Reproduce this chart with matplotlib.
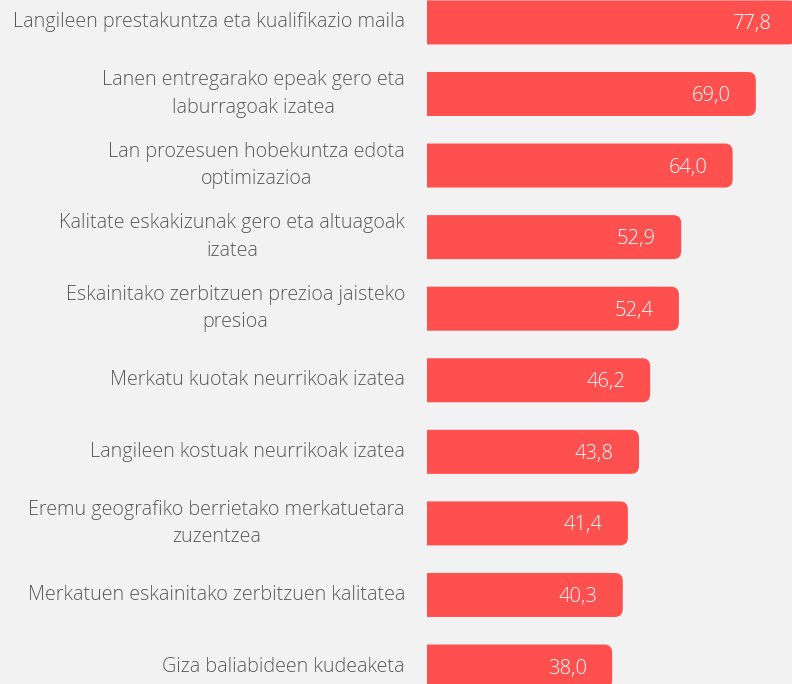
import matplotlib
matplotlib.use("Agg")
import matplotlib.pyplot as plt
from matplotlib.patches import FancyBboxPatch
from matplotlib.transforms import offset_copy

categories = [
    "Langileen prestakuntza eta kualifikazio maila",
    "Lanen entregarako epeak gero eta\nlaburragoak izatea",
    "Lan prozesuen hobekuntza edota\noptimizazioa",
    "Kalitate eskakizunak gero eta altuagoak\nizatea",
    "Eskainitako zerbitzuen prezioa jaisteko\npresioa",
    "Merkatu kuotak neurrikoak izatea",
    "Langileen kostuak neurrikoak izatea",
    "Eremu geografiko berrietako merkatuetara\nzuzentzea",
    "Merkatuen eskainitako zerbitzuen kalitatea",
    "Giza baliabideen kudeaketa",
]
values = [77.8, 69.0, 64.0, 52.9, 52.4, 46.2, 43.8, 41.4, 40.3, 38.0]
value_labels = ["77,8", "69,0", "64,0", "52,9", "52,4", "46,2", "43,8", "41,4", "40,3", "38,0"]

BG = "#F2F2F2"
BAR = "#FF5050"
TXT = "#595959"
FONT = ["Open Sans", "DejaVu Sans"]

W, H = 792, 684
fig = plt.figure(figsize=(W / 100, H / 100), dpi=100, facecolor=BG)
ax = fig.add_axes([427 / W, 0, 1 - 427 / W, 1])
ax.set_facecolor(BG)

xmin, xmax = -1.94, 76.8
ax.set_xlim(xmin, xmax)
ax.set_ylim(9.244, -0.313)
for s in ax.spines.values():
    s.set_visible(False)
ax.set_xticks([])
ax.set_yticks([])

px_per_x = (W - 427) / (xmax - xmin)
px_per_y = H / (9.244 + 0.313)
radius_px = 8
r_x = radius_px / px_per_x
r_y = radius_px / px_per_y
height = 0.615

val_tr = offset_copy(ax.transData, fig=fig, x=-25, y=-2, units="dots")
lab_tr = offset_copy(ax.transData, fig=fig, x=-22, y=0, units="dots")

for i, (v, lab) in enumerate(zip(values, value_labels)):
    left = xmin - 3
    patch = FancyBboxPatch((left, i - height / 2), v - left, height,
                           boxstyle=f"round,pad=0,rounding_size={r_x}",
                           mutation_aspect=r_y / r_x,
                           facecolor=BAR, edgecolor="none", clip_on=True)
    ax.add_patch(patch)
    ax.text(v, i, lab, transform=val_tr, ha="right", va="center",
            color="white", fontsize=14.6, family=FONT, fontweight="light",
            clip_on=False)

for i, c in enumerate(categories):
    ax.text(xmin, i, c, transform=lab_tr, ha="right", va="center",
            multialignment="center", color=TXT, fontsize=14.2, family=FONT,
            fontweight="light", linespacing=1.5, clip_on=False)

fig.savefig("out.png", dpi=100, facecolor=BG)
